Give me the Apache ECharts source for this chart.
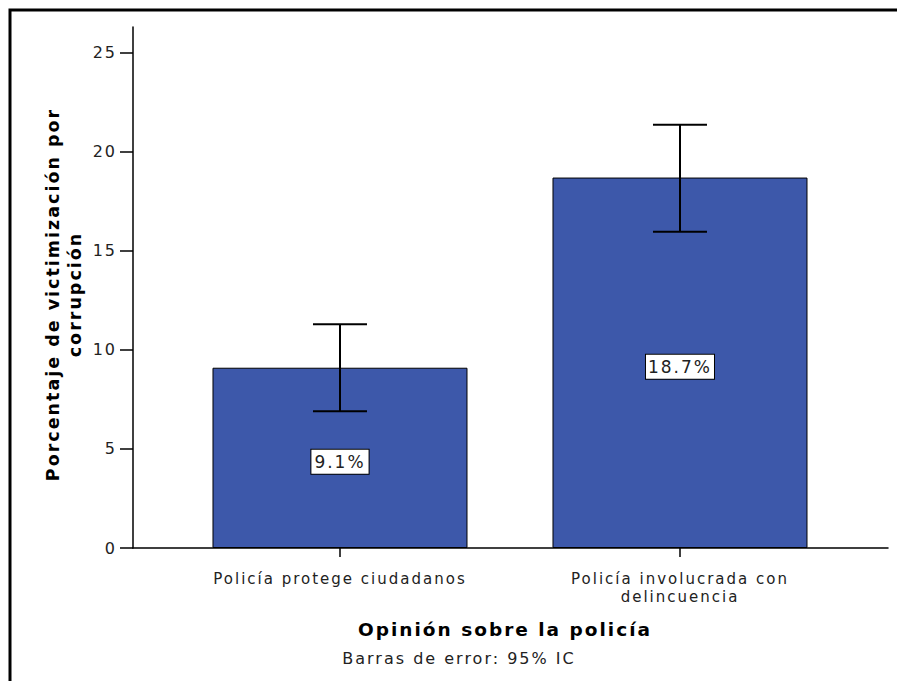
<!DOCTYPE html>
<html>
<head>
<meta charset="utf-8">
<script src="https://cdn.jsdelivr.net/npm/echarts@6/dist/echarts.min.js"></script>
<style>html,body{margin:0;padding:0;background:#fff}#c{width:897px;height:681px}#c svg text{letter-spacing:2px}</style>
</head>
<body>
<div id="c"></div>
<script>
const categories = ['Policía protege ciudadanos', 'Policía involucrada con\ndelincuencia'];
const values = [9.1, 18.7];
const ciLower = [6.9, 15.97];
const ciUpper = [11.3, 21.36];
const yTicks = [0, 5, 10, 15, 20, 25];

const FONT = 'DejaVu Sans';
const chart = echarts.init(document.getElementById('c'), null, {renderer: 'svg'});
const barData = categories.map((c, i) => [i + 1, values[i]]);
const errData = categories.map((c, i) => [i + 1, ciLower[i], ciUpper[i]]);

chart.setOption({
  animation: false,
  backgroundColor: '#fff',
  grid: {left: 133, right: 9, top: 27, bottom: 133, containLabel: false},
  xAxis: {
    type: 'value', min: 0.3912, max: 2.6118,
    splitLine: {show: false},
    axisLine: {show: true, onZero: false, lineStyle: {color: '#000', width: 1.5}},
    axisTick: {show: true, customValues: [1, 2], length: 9, lineStyle: {color: '#000', width: 1.5}},
    axisLabel: {customValues: [1, 2], formatter: v => categories[Math.round(v) - 1], margin: 22,
      fontFamily: FONT, fontSize: 15, color: '#222', lineHeight: 18},
    name: 'Opinión sobre la policía', nameLocation: 'middle', nameGap: 72,
    nameTextStyle: {fontFamily: FONT, fontSize: 18.5, fontWeight: 'bold', color: '#000', padding: [0, 11, 0, 0]}
  },
  yAxis: {
    type: 'value', min: 0, max: 26.3,
    splitLine: {show: false},
    axisLine: {show: true, lineStyle: {color: '#000', width: 1.5}},
    axisTick: {show: true, customValues: yTicks, length: 13, lineStyle: {color: '#000', width: 1.5}},
    axisLabel: {customValues: yTicks, margin: 16, fontFamily: FONT, fontSize: 16, color: '#222', padding: [11, 0, 0, 0]},
    name: 'Porcentaje de victimización por\ncorrupción', nameLocation: 'middle', nameGap: 42,
    nameTextStyle: {fontFamily: FONT, fontSize: 17.5, fontWeight: 'bold', color: '#000', lineHeight: 22, padding: [0, 14, 0, 0]}
  },
  graphic: [
    {type: 'polyline', shape: {points: [[10, 681], [10, 10], [897, 10]]}, style: {stroke: '#000', lineWidth: 3, fill: null}},
    {type: 'text', x: 459, y: 658, style: {text: 'Barras de error: 95% IC', fontFamily: FONT, fontSize: 16, fill: '#222', textAlign: 'center', textVerticalAlign: 'middle'}}
  ],
  series: [
    {
      type: 'bar', data: barData, barWidth: 255,
      itemStyle: {color: '#3d58aa', borderColor: '#000', borderWidth: 1},
      label: {show: true, position: 'inside', offset: [0, 4], formatter: p => values[p.dataIndex].toFixed(1) + '%',
        fontFamily: FONT, fontSize: 17, color: '#222', backgroundColor: '#fff', borderColor: '#000', borderWidth: 1, padding: [4, 7, 3, 7]}
    },
    {
      type: 'custom', data: errData, z: 5,
      renderItem: (params, api) => {
        const x = api.value(0);
        const lo = api.coord([x, api.value(1)]);
        const hi = api.coord([x, api.value(2)]);
        const hw = 27;
        const st = {stroke: '#000', lineWidth: 2};
        return {type: 'group', children: [
          {type: 'line', shape: {x1: lo[0], y1: lo[1], x2: hi[0], y2: hi[1]}, style: st},
          {type: 'line', shape: {x1: hi[0] - hw, y1: hi[1], x2: hi[0] + hw, y2: hi[1]}, style: st},
          {type: 'line', shape: {x1: lo[0] - hw, y1: lo[1], x2: lo[0] + hw, y2: lo[1]}, style: st}
        ]};
      }
    }
  ]
});
</script>
</body>
</html>
